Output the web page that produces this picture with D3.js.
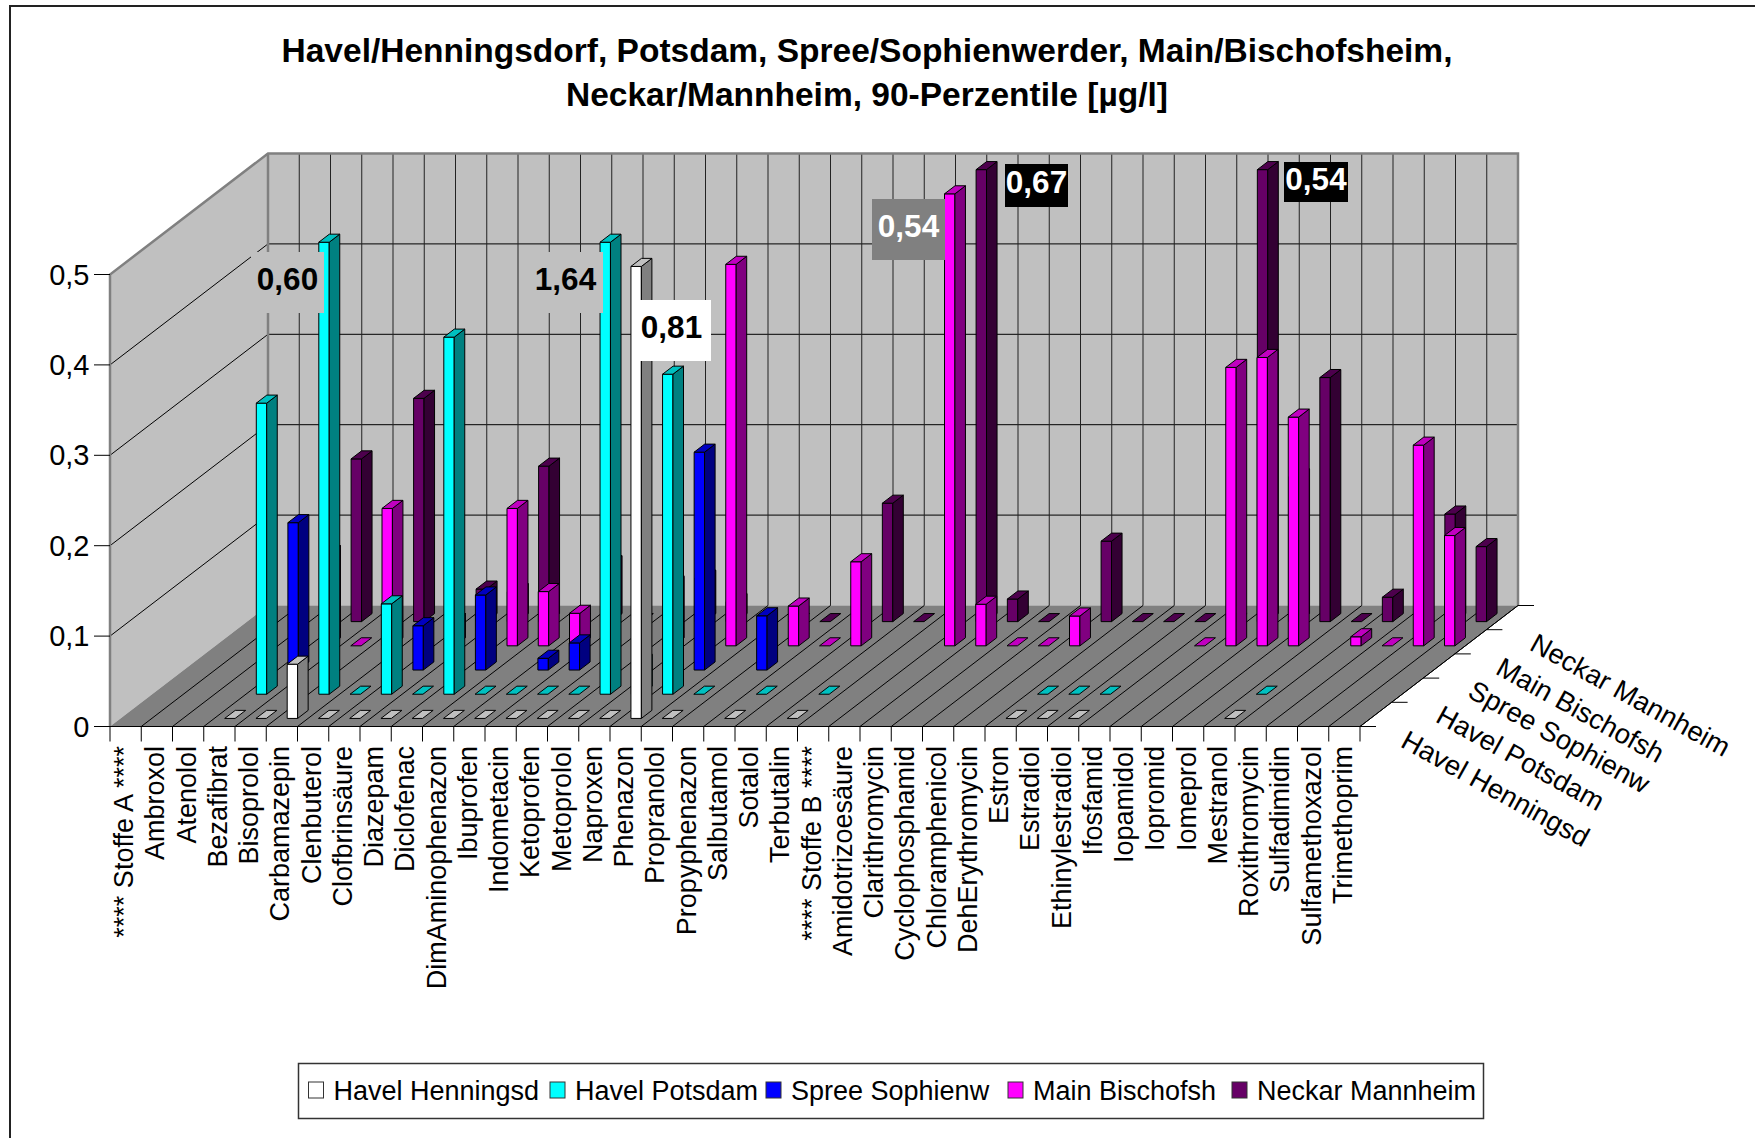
<!DOCTYPE html>
<html>
<head>
<meta charset="utf-8">
<script src="https://cdn.jsdelivr.net/npm/d3@7"></script>
<style>
  html, body { margin: 0; background: #fff; }
  svg { display: block; }
  text { font-family: "Liberation Sans", Arial, sans-serif; fill: #000; }
</style>
</head>
<body>
<div id="chart-container"></div>
<script>
const categories = ['**** Stoffe A ****', 'Ambroxol', 'Atenolol', 'Bezafibrat', 'Bisoprolol', 'Carbamazepin',
  'Clenbuterol', 'Clofbrinsäure', 'Diazepam', 'Diclofenac', 'DimAminophenazon', 'Ibuprofen', 'Indometacin',
  'Ketoprofen', 'Metoprolol', 'Naproxen', 'Phenazon', 'Propranolol', 'Propyphenazon', 'Salbutamol', 'Sotalol',
  'Terbutalin', '**** Stoffe B ****', 'Amidotrizoesäure', 'Clarithromycin', 'Cyclophosphamid', 'Chloramphenicol',
  'DehErythromycin', 'Estron', 'Estradiol', 'Ethinylestradiol', 'Ifosfamid', 'Iopamidol', 'Iopromid', 'Iomeprol',
  'Mestranol', 'Roxithromycin', 'Sulfadimidin', 'Sulfamethoxazol', 'Trimethoprim'];

const seriesNames = ['Havel Henningsd', 'Havel Potsdam', 'Spree Sophienw', 'Main Bischofsh', 'Neckar Mannheim'];

// [category name, value]; 0 draws as a flat tile, categories not listed have no mark
const havelHenningsd = [['Bezafibrat', 0], ['Bisoprolol', 0], ['Carbamazepin', 0.06], ['Clenbuterol', 0],
  ['Clofbrinsäure', 0], ['Diazepam', 0], ['Diclofenac', 0], ['DimAminophenazon', 0], ['Ibuprofen', 0],
  ['Indometacin', 0], ['Ketoprofen', 0], ['Metoprolol', 0], ['Naproxen', 0], ['Phenazon', 0.81],
  ['Propranolol', 0], ['Salbutamol', 0], ['Terbutalin', 0], ['Estron', 0], ['Estradiol', 0],
  ['Ethinylestradiol', 0], ['Mestranol', 0]];
const havelPotsdam = [['Bezafibrat', 0.322], ['Carbamazepin', 0.60], ['Clenbuterol', 0], ['Clofbrinsäure', 0.10],
  ['Diazepam', 0], ['Diclofenac', 0.395], ['DimAminophenazon', 0], ['Ibuprofen', 0], ['Indometacin', 0],
  ['Ketoprofen', 0], ['Metoprolol', 1.64], ['Naproxen', 0.035], ['Phenazon', 0.354], ['Propranolol', 0],
  ['Salbutamol', 0], ['Terbutalin', 0], ['Estron', 0], ['Estradiol', 0], ['Ethinylestradiol', 0], ['Mestranol', 0]];
const spreeSophienw = [['Bezafibrat', 0.163], ['Clofbrinsäure', 0.049], ['Diclofenac', 0.083], ['Ibuprofen', 0.013],
  ['Indometacin', 0.03], ['Phenazon', 0.241], ['Propyphenazon', 0.06]];
const mainBischofsh = [['Bezafibrat', 0.102], ['Bisoprolol', 0], ['Carbamazepin', 0.152], ['Clofbrinsäure', 0.026],
  ['Diclofenac', 0.152], ['DimAminophenazon', 0.06], ['Ibuprofen', 0.036], ['Metoprolol', 0.068], ['Phenazon', 0.422],
  ['Propyphenazon', 0.044], ['Salbutamol', 0], ['Sotalol', 0.093], ['Amidotrizoesäure', 0.54], ['Clarithromycin', 0.046],
  ['Cyclophosphamid', 0], ['Chloramphenicol', 0], ['DehErythromycin', 0.033], ['Ifosfamid', 0], ['Iopamidol', 0.308],
  ['Iopromid', 0.319], ['Iomeprol', 0.253], ['Roxithromycin', 0.01], ['Sulfadimidin', 0], ['Sulfamethoxazol', 0.222],
  ['Trimethoprim', 0.122]];
const neckarMannheim = [['Bezafibrat', 0.18], ['Carbamazepin', 0.247], ['Clenbuterol', 0], ['Clofbrinsäure', 0.036],
  ['Diazepam', 0.033], ['Diclofenac', 0.172], ['DimAminophenazon', 0], ['Ibuprofen', 0.064], ['Indometacin', 0],
  ['Metoprolol', 0.048], ['Naproxen', 0.022], ['Propranolol', 0], ['Propyphenazon', 0], ['Sotalol', 0.131],
  ['Terbutalin', 0], ['Amidotrizoesäure', 0.67], ['Clarithromycin', 0.025], ['Cyclophosphamid', 0],
  ['Chloramphenicol', 0], ['DehErythromycin', 0.089], ['Estron', 0], ['Estradiol', 0], ['Ethinylestradiol', 0],
  ['Ifosfamid', 0], ['Iopamidol', 0.54], ['Iopromid', 0.16], ['Iomeprol', 0.27], ['Mestranol', 0],
  ['Roxithromycin', 0.027], ['Sulfamethoxazol', 0.119], ['Trimethoprim', 0.083]];
const seriesValues = [havelHenningsd, havelPotsdam, spreeSophienw, mainBischofsh, neckarMannheim];

const yTicks = [0, 0.1, 0.2, 0.3, 0.4, 0.5];

const titleLines = ['Havel/Henningsdorf, Potsdam, Spree/Sophienwerder, Main/Bischofsheim,',
  'Neckar/Mannheim, 90-Perzentile [µg/l]'];

// Colours: front, side, top per series
const frontColors = ['#ffffff', '#00ffff', '#0000ff', '#ff00ff', '#660066'];
const sideColors = ['#808080', '#008080', '#000080', '#800080', '#330033'];
const topColors = ['#c0c0c0', '#00c0c0', '#0000c0', '#c000c0', '#4d004d'];

/* Dimensions */
const width = 1755, height = 1138;
const originX = 110, originY = 726.5;   // front left corner of the floor
const plotWidth = 1250, plotHeight = 452;
const depthX = 158, depthY = -121;

const xScale = d3.scaleLinear().domain([0, categories.length]).range([0, plotWidth]);
const zScale = d3.scaleLinear().domain([0, seriesNames.length]).range([0, 1]);
const yScale = d3.scaleLinear().domain([0, 0.5]).range([0, plotHeight]).clamp(true);

// Oblique projection: cat position, series position, value -> pixel
function project(c, s, v) {
  return [
    originX + xScale(c) + zScale(s) * depthX,
    originY + zScale(s) * depthY - yScale(v)
  ];
}
const poly = pts => pts.map(p => p.join(',')).join(' ');
const comma = (fmt, v) => d3.format(fmt)(v).replace('.', ',');

const svg = d3.select('#chart-container').append('svg')
  .attr('width', width)
  .attr('height', height);

// Outer frame, only top and left fall inside the picture
svg.append('path')
  .attr('d', 'M10,' + height + 'V6H' + width)
  .attr('fill', 'none').attr('stroke', '#222').attr('stroke-width', 2);

// Title
svg.selectAll('.title').data(titleLines).enter().append('text')
  .attr('class', 'title')
  .attr('x', 867)
  .attr('y', (d, i) => 62 + i * 44)
  .attr('text-anchor', 'middle')
  .style('font-size', '33.5px')
  .style('font-weight', 'bold')
  .text(d => d);

const nC = categories.length, nS = seriesNames.length;
const wallFill = '#c0c0c0', floorFill = '#808080', edgeColor = '#808080';

// Walls and floor
const walls = svg.append('g');
walls.append('polygon')
  .attr('points', poly([project(0, 0, 0), project(0, nS, 0), project(0, nS, 0.5), project(0, 0, 0.5)]))
  .attr('fill', wallFill);
walls.append('polygon')
  .attr('points', poly([project(0, nS, 0), project(nC, nS, 0), project(nC, nS, 0.5), project(0, nS, 0.5)]))
  .attr('fill', wallFill);
walls.append('polygon')
  .attr('points', poly([project(0, 0, 0), project(nC, 0, 0), project(nC, nS, 0), project(0, nS, 0)]))
  .attr('fill', floorFill);

// Gridlines
const grid = svg.append('g').attr('stroke', '#000').attr('stroke-width', 1).attr('fill', 'none');
yTicks.slice(1, -1).forEach(t => {
  grid.append('polyline').attr('points', poly([project(0, 0, t), project(0, nS, t), project(nC, nS, t)]));
});
d3.range(1, nC).forEach(c => {
  grid.append('line')
    .attr('x1', project(c, nS, 0)[0]).attr('y1', project(c, nS, 0)[1])
    .attr('x2', project(c, nS, 0.5)[0]).attr('y2', project(c, nS, 0.5)[1])
    .attr('stroke', '#222');
});
d3.range(1, nC + 1).forEach(c => {
  grid.append('line')
    .attr('x1', project(c, 0, 0)[0]).attr('y1', project(c, 0, 0)[1])
    .attr('x2', project(c, nS, 0)[0]).attr('y2', project(c, nS, 0)[1]);
});

// Wall edges
const edges = svg.append('g').attr('stroke', edgeColor).attr('stroke-width', 2.5).attr('fill', 'none');
edges.append('polyline').attr('points', poly([project(0, 0, 0), project(0, 0, 0.5), project(0, nS, 0.5),
  project(nC, nS, 0.5), project(nC, nS, 0)]));
edges.append('line')
  .attr('x1', project(0, nS, 0)[0]).attr('y1', project(0, nS, 0)[1])
  .attr('x2', project(0, nS, 0.5)[0]).attr('y2', project(0, nS, 0.5)[1]);

// Axes lines and ticks
const axes = svg.append('g').attr('stroke', '#000').attr('stroke-width', 1).attr('fill', 'none');
axes.append('polyline').attr('points', poly([project(0, 0, 0), project(nC, 0, 0), project(nC, nS, 0)]));
yTicks.forEach(t => {
  let p = project(0, 0, t);
  axes.append('line').attr('x1', p[0] - 16).attr('x2', p[0]).attr('y1', p[1]).attr('y2', p[1]);
});
d3.range(0, nC + 1).forEach(c => {
  let p = project(c, 0, 0);
  axes.append('line').attr('x1', p[0]).attr('x2', p[0]).attr('y1', p[1]).attr('y2', p[1] + 15);
});
d3.range(0, nS + 1).forEach(s => {
  let p = project(nC, s, 0);
  axes.append('line').attr('x1', p[0]).attr('x2', p[0] + 16).attr('y1', p[1]).attr('y2', p[1]);
});

// Y labels
svg.selectAll('.y-label').data(yTicks).enter().append('text')
  .attr('class', 'y-label')
  .attr('x', 89.5)
  .attr('y', d => project(0, 0, d)[1] + 10)
  .attr('text-anchor', 'end')
  .style('font-size', '29px')
  .text(d => d === 0 ? '0' : comma('.1f', d));

// Category labels
svg.selectAll('.cat-label').data(categories).enter().append('text')
  .attr('class', 'cat-label')
  .attr('text-anchor', 'end')
  .attr('transform', (d, i) => 'translate(' + (project(i + 0.5, 0, 0)[0] + 7.5) + ',746) rotate(-90)')
  .style('font-size', '27px')
  .text(d => d);

// Series labels on the depth axis
const seriesLabelStart = [[1410, 727], [1445, 702], [1477, 677], [1505, 654], [1539, 630]];
svg.selectAll('.series-label').data(seriesNames).enter().append('text')
  .attr('class', 'series-label')
  .attr('transform', (d, i) => 'translate(' + seriesLabelStart[i] + ') rotate(29) translate(0,22)')
  .style('font-size', '27.5px')
  .text(d => d);

// Bars, back series first
const barLo = 1 / 3, barHi = 2 / 3;
d3.range(nS - 1, -1, -1).forEach(s => {
  let g = svg.append('g').attr('stroke', '#000').attr('stroke-width', 1).attr('stroke-linejoin', 'round');
  seriesValues[s].forEach(d => {
    let c = categories.indexOf(d[0]), v = d[1];
    let x0 = c + barLo, x1 = c + barHi, z0 = s + barLo, z1 = s + barHi;
    if (v > 0) {
      g.append('polygon').attr('fill', frontColors[s])
        .attr('points', poly([project(x0, z0, 0), project(x1, z0, 0), project(x1, z0, v), project(x0, z0, v)]));
      g.append('polygon').attr('fill', sideColors[s])
        .attr('points', poly([project(x1, z0, 0), project(x1, z1, 0), project(x1, z1, v), project(x1, z0, v)]));
    }
    g.append('polygon').attr('fill', topColors[s])
      .attr('points', poly([project(x0, z0, v), project(x1, z0, v), project(x1, z1, v), project(x0, z1, v)]));
  });
});

// Value labels for the columns cut off at the axis maximum
const valueLabels = [
  { series: 1, cat: 'Carbamazepin', box: [251, 252, 73, 61], bg: '#c0c0c0', color: '#000' },
  { series: 1, cat: 'Metoprolol', box: [528, 252, 75, 61], bg: '#c0c0c0', color: '#000' },
  { series: 0, cat: 'Phenazon', box: [632, 300, 79, 61], bg: '#fff', color: '#000' },
  { series: 3, cat: 'Amidotrizoesäure', box: [872, 199, 73, 61], bg: '#808080', color: '#fff' },
  { series: 4, cat: 'Amidotrizoesäure', box: [1005, 164, 63, 43], bg: '#000', color: '#fff' },
  { series: 4, cat: 'Iopamidol', box: [1284, 162, 64, 40], bg: '#000', color: '#fff' }
];
valueLabels.forEach(l => {
  let v = seriesValues[l.series].find(d => d[0] === l.cat)[1];
  svg.append('rect').attr('x', l.box[0]).attr('y', l.box[1]).attr('width', l.box[2]).attr('height', l.box[3])
    .attr('fill', l.bg);
  svg.append('text')
    .attr('x', l.box[0] + l.box[2] / 2).attr('y', l.box[1] + l.box[3] / 2 + 7.5)
    .attr('text-anchor', 'middle')
    .style('font-size', '31.5px').style('font-weight', 'bold')
    .style('fill', l.color)
    .text(comma('.2f', v));
});

// Legend
const legendTextX = [333.5, 575, 791, 1033, 1257];
const legend = svg.append('g');
legend.append('rect').attr('x', 298.5).attr('y', 1063.5).attr('width', 1185).attr('height', 55)
  .attr('fill', '#fff').attr('stroke', '#333').attr('stroke-width', 1.5);
seriesNames.forEach((name, s) => {
  legend.append('rect').attr('x', legendTextX[s] - 25).attr('y', 1082).attr('width', 15).attr('height', 16)
    .attr('fill', frontColors[s]).attr('stroke', '#333');
  legend.append('text').attr('x', legendTextX[s]).attr('y', 1100)
    .style('font-size', '27px').text(name);
});
</script>
</body>
</html>
